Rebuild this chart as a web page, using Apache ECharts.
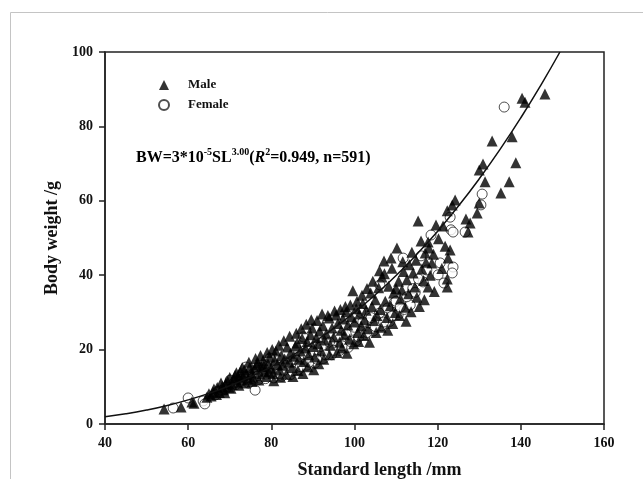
<!DOCTYPE html>
<html>
<head>
<meta charset="utf-8">
<script src="https://cdn.jsdelivr.net/npm/echarts@6/dist/echarts.min.js"></script>
<style>
  html, body { margin: 0; padding: 0; background: #fff; }
  #chart { width: 643px; height: 479px; }
</style>
</head>
<body>
<div id="chart"></div>
<script>
// axis ticks
var xTicks = [40, 60, 80, 100, 120, 140, 160];
var yTicks = [0, 20, 40, 60, 80, 100];

// male points [standard length mm, body weight g]
var maleData = [
  [54.2,4.0],[58.3,4.6],[60.9,5.9],[61.4,5.6],
  [64.5,7.2],[65,8.1],[65.5,7.5],[66,8.6],[66.2,9.4],[66.8,7.9],[67,9.8],[67.5,8.5],[67.9,11.0],[68.2,10.1],[68.5,9.2],[69,10.8],[69.4,11.6],[69.8,9.9],[70,12.5],
  [70.5,10.7],[71,12.0],[71.3,13.1],[71.8,11.2],[72,12.6],[72.5,14.0],[72.8,11.8],[73.2,12.9],[73.5,14.6],[74,13.3],[74.4,12.0],[74.8,15.2],[75.2,13.8],[75.6,12.6],[76,14.8],[76.4,16.0],[76.8,16.4],[77.2,13.5],[77.6,15.4],[78,17.0],[78.4,14.2],[78.8,12.8],[79.2,16.2],[79.6,18.0],[80,15.0],
  [80.4,13.6],[80.8,17.2],[81.1,19.6],[81.5,16.0],[82,14.5],[82.4,18.4],[82.8,15.8],[83.2,17.5],[83.8,20.7],[84.2,16.6],[84.6,19.0],[85,15.2],[85.4,18.2],[85.8,21.0],[86.2,21.8],[86.6,17.4],[87,19.6],[87.4,23.0],[87.8,16.8],[88.2,20.4],[88.6,22.2],[89,18.6],[89.4,24.0],[89.8,25.8],[90,20.8],
  [90.4,18.0],[90.8,23.2],[91.2,21.6],[91.6,25.0],[92,19.6],[92.4,26.4],[92.8,22.6],[93.2,24.2],[93.9,28.5],[94.2,21.2],[94.6,25.8],[95,23.4],[95.6,29.3],[96,27.0],[96.4,22.0],[96.8,25.2],[97.2,28.2],[97.6,24.0],[98,30.2],[98.4,26.6],[98.8,22.8],[99.2,28.8],[99.6,35.8],[100,27.4],
  [100.4,31.0],[100.8,24.6],[101.2,29.6],[101.6,26.4],[102,32.4],[102.4,28.0],[102.8,30.6],[103.2,25.6],[103.9,35.2],[104.2,31.6],[104.6,27.8],[105,33.4],[105.4,29.2],[105.8,36.6],[106.2,30.8],[106.6,39.5],[107.1,43.8],[107.4,33.0],[107.8,28.6],[108.2,37.0],[108.6,31.8],[109,41.9],[109.4,35.2],[109.8,30.0],[110.2,47.3],
  [110.6,38.4],[111,33.6],[111.4,36.0],[111.8,41.0],[112.2,31.4],[112.6,38.8],[113,35.0],[113.8,46.2],[114.1,40.6],[114.5,36.8],[115,34.1],[115.3,54.6],[116.2,41.7],[116.6,38.6],[117,46.0],[117.2,43.5],[117.7,48.9],[117.9,47.3],[117.7,36.8],[118.6,43.3],[119.6,53.5],[121.3,53.2],[122.3,57.3],[123.5,58.9],[124.2,60.2],[123,46.8],[122.5,44.6],[122.3,39.0],[122.3,36.8],
  [126.8,55.1],[127.8,54.0],[127.3,51.6],[129.5,56.7],[130,59.4],[131.4,65.1],[130.9,69.9],[130,68.3],[133.1,76.1],[137.9,77.2],[138.8,70.2],[137.2,65.1],[135.2,62.1],[140.3,87.6],[141,86.5],[145.8,88.7],
  [68.8,8.4],[70.3,9.6],[71.6,13.8],[72.2,10.4],[73,15.2],[73.8,11.0],[74.6,16.6],[75.4,11.4],[76.2,17.6],[77,11.8],[77.4,18.4],[78.2,15.6],[79,19.2],[79.4,14.0],[80.2,20.0],[80.6,11.6],
  [81.8,21.2],[82.2,12.6],[83,22.4],[83.6,13.4],[84.4,23.6],[85.2,12.8],[86,24.4],[86.4,14.4],[87.2,25.6],[87.6,13.6],[88.4,26.8],[88.8,15.4],[89.6,28.0],[90.2,14.6],
  [91,27.8],[91.4,16.2],[92.2,29.6],[92.6,17.4],[93.6,29.2],[94,18.6],[95.2,30.4],[95.8,19.2],[96.6,30.8],[97,20.4],[97.8,31.6],[98.2,19.0],[99,32.0],[99.8,21.6],
  [100.6,33.0],[101,22.2],[101.8,34.6],[102.2,23.8],[103,36.4],[103.6,22.0],[104.4,38.4],[105.2,24.6],[106,41.2],[106.4,26.0],[107.2,40.4],[108,25.2],[108.8,44.6],[109.2,27.0],[110,36.4],
  [110.8,29.2],[111.6,43.6],[112.4,27.6],[113.2,42.8],[113.6,30.2],[114.8,44.0],[115.6,31.6],[116,49.2],[116.8,33.4],[118.2,40.0],[119,45.6],[119.2,35.6],[120.2,49.8],[121,41.8],[121.8,47.8]
];

// female points
var femaleData = [
  [56.4,4.3],[60,7.0],[63.6,6.2],[64,5.4],
  [66.5,7.8],[68,9.0],[69.5,10.2],[70.1,11.8],[71.5,10.6],[72.5,11.4],[73.2,13.7],[73.9,15.3],[74.5,11.0],[75.5,12.2],[76.1,9.1],[77,12.0],[78,13.2],[79.7,17.7],
  [80.5,12.4],[81.5,14.0],[82.5,12.8],[83.5,15.6],[84.5,13.2],[85.5,16.4],[86.5,14.6],[87.7,23.4],[88.5,15.8],[89.5,17.8],
  [90.5,16.4],[91.5,19.2],[92.5,17.6],[93.5,20.4],[94.5,18.6],[95.5,21.4],[96.5,19.8],[97.5,23.0],[98.5,20.6],[99.5,25.2],
  [100.5,22.4],[101.5,30.0],[102.5,24.0],[103.5,27.2],[104.5,25.0],[105.5,28.4],[106.1,37.4],[106.5,26.4],[107.5,30.4],[108.5,27.6],[109.5,32.6],
  [110.5,29.4],[111.7,44.6],[112,30.8],[113.4,32.0],[114,36.4],[116,45.2],[116.5,38.2],[118.4,50.8],[120.6,43.3],[120.1,40.1],[121.5,37.9],
  [123.7,42.2],[123.5,40.6],[123,55.6],[123.2,52.2],[123.7,51.6],[126.6,51.6],[130.4,58.9],[130.7,61.8],[136,85.2],
  [67.2,8.8],[69,9.4],[71,11.0],[74,12.4],[76.8,13.0],[78.6,12.2],[80,13.8],[81,15.6],[82,13.6],[83,14.4],[84,16.2],[85,14.2],[86,17.2],[87,15.4],[88,18.6],[89,16.6],
  [90,19.4],[91,17.4],[92,20.8],[93,18.6],[94,22.0],[95,19.8],[96,23.4],[97,21.0],[98,24.2],[99,22.2],[100,26.0],[101,23.4],[102,27.4],[103,24.6],[104,28.6],[105,26.2],
  [106,29.8],[107,27.4],[108,31.2],[109,29.0],[110,33.0],[111,31.4],[112.6,34.2],[114.6,35.4],[115.4,39.0],[117.4,41.4]
];

// fitted curve BW = 3e-5 * SL^3
var curveX = [40, 45, 50, 55, 60, 65, 70, 75, 80, 85, 90, 95, 100, 105, 110, 115, 120, 125, 130, 135, 140, 145, 149.4];
var curveY = [1.92, 2.73, 3.75, 4.99, 6.48, 8.24, 10.29, 12.66, 15.36, 18.42, 21.87, 25.72, 30.0, 34.73, 39.93, 45.63, 51.84, 58.59, 65.91, 73.81, 82.32, 91.46, 100];

var serif = '"Liberation Serif", "Times New Roman", serif';

var myChart = echarts.init(document.getElementById('chart'));

var option = {
  backgroundColor: '#fff',
  animation: false,
  grid: {
    left: 105, right: 39, top: 52, bottom: 55,
    outerBoundsMode: 'none', containLabel: false,
    show: true, borderColor: '#222', borderWidth: 1.5
  },
  legend: {
    data: ['Male', 'Female'],
    orient: 'vertical',
    left: 153, top: 73,
    itemWidth: 10, itemHeight: 10, itemGap: 6,
    textStyle: { fontFamily: serif, fontWeight: 'bold', fontSize: 13, color: '#111', lineHeight: 14, padding: [0, 0, 0, 14] }
  },
  xAxis: {
    type: 'value', min: 40, max: 160, interval: 20,
    name: 'Standard length /mm', nameLocation: 'middle', nameGap: 37,
    nameTextStyle: { fontFamily: serif, fontWeight: 'bold', fontSize: 18, color: '#111', padding: [0, 0, 0, 50] },
    axisLine: { lineStyle: { color: '#222', width: 1.5 } },
    axisTick: { inside: false, length: 6, lineStyle: { color: '#222', width: 1.5 } },
    axisLabel: { margin: 12, fontFamily: serif, fontWeight: 'bold', fontSize: 14, color: '#111' },
    splitLine: { show: false }
  },
  yAxis: {
    type: 'value', min: 0, max: 100, interval: 20,
    name: 'Body weight /g', nameLocation: 'middle', nameGap: 32,
    nameTextStyle: { fontFamily: serif, fontWeight: 'bold', fontSize: 18, color: '#111' },
    axisLine: { lineStyle: { color: '#222', width: 1.5 } },
    axisTick: { inside: false, length: 6, lineStyle: { color: '#222', width: 1.5 } },
    axisLabel: { margin: 12, fontFamily: serif, fontWeight: 'bold', fontSize: 14, color: '#111' },
    splitLine: { show: false }
  },
  graphic: [
    {
      type: 'rect', silent: true, z: -10,
      shape: { x: 10.5, y: 12.5, width: 800, height: 600 },
      style: { fill: 'none', stroke: '#c4c4c4', lineWidth: 1 }
    },
    {
      type: 'text', left: 136, top: 147,
      style: {
        text: '{a|BW=3*10}{s|-5}{a|SL}{s|3.00}{a|(}{i|R}{s|2}{a|=0.949, n=591)}',
        rich: {
          a: { fontFamily: serif, fontWeight: 'bold', fontSize: 16, color: '#111', lineHeight: 19, verticalAlign: 'bottom' },
          i: { fontFamily: serif, fontWeight: 'bold', fontStyle: 'italic', fontSize: 16, color: '#111', lineHeight: 19, verticalAlign: 'bottom' },
          s: { fontFamily: serif, fontWeight: 'bold', fontSize: 10, color: '#111', lineHeight: 10, verticalAlign: 'top' }
        }
      }
    }
  ],
  series: [
    {
      name: 'Female', type: 'scatter', symbol: 'circle', symbolSize: 10,
      itemStyle: { color: '#fff', borderColor: '#222', borderWidth: 1 },
      data: femaleData, z: 2
    },
    {
      name: 'Male', type: 'scatter', symbol: 'triangle', symbolSize: 11,
      itemStyle: { color: '#000' },
      data: maleData, z: 3
    },
    {
      name: 'fit', type: 'line', smooth: true, showSymbol: false, symbol: 'none',
      lineStyle: { color: '#111', width: 1.5 },
      data: curveX.map(function (x, i) { return [x, curveY[i]]; }), z: 4
    }
  ]
};

myChart.setOption(option);
</script>
</body>
</html>
